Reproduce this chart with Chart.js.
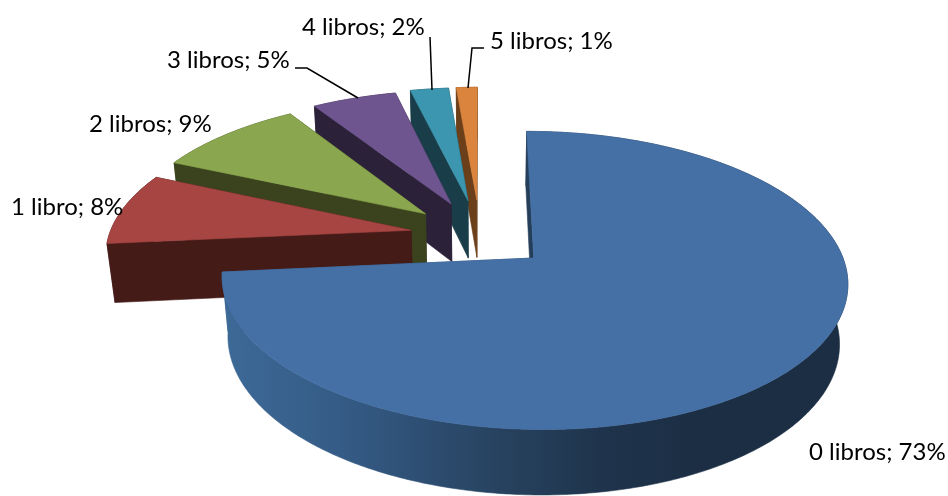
<!DOCTYPE html>
<html>
<head>
<meta charset="utf-8">
<style>
  html, body { margin: 0; padding: 0; background: #fff; }
  canvas { display: block; }
</style>
<script src="https://cdn.jsdelivr.net/npm/chart.js@4"></script>
</head>
<body>
<canvas id="pieChart" width="948" height="496"></canvas>
<script>
var categories = ['0 libros', '1 libro', '2 libros', '3 libros', '4 libros', '5 libros'];
var percentValues = [73.49, 8.2, 9.3, 5.3, 2.4, 1.31];

var topColors = ['#4470a6', '#a64542', '#8aa64e', '#6f5590', '#3d96af', '#db843d'];
var sideColors = ['#1b2e44', '#451b18', '#3a431d', '#2b2138', '#1a3e49', '#6b3f1a'];
var explodeOffsets = [188, 186, 195, 203, 210, 212];

var labelX = [809, 11, 89, 167, 302, 490];
var labelY = [460, 215, 132, 68, 35, 49];
var leaderLines = [
	null, null, null,
	[[295, 68], [307, 68], [358, 98]],
	[[430, 37], [432, 90]],
	[[484, 48], [472, 48], [468, 88]]
];

// perspective of the pie plane
var view = { x0: 480, y0: 235.5, sx: 302, sy: 139, tilt: 0.147, depth: 60, depthScale: 0.022 };

function project(u, v, bottom){
	var w = 1 - view.tilt * v + (bottom ? view.depthScale : 0);
	return {
		x: view.x0 + view.sx * u / w,
		y: view.y0 + (view.sy * v + (bottom ? view.depth : 0)) / w
	};
}

function fillPoly(ctx, pts, color){
	ctx.beginPath();
	pts.forEach(function(p, i){ if(i === 0){ ctx.moveTo(p.x, p.y); }else{ ctx.lineTo(p.x, p.y); } });
	ctx.closePath();
	ctx.fillStyle = color;
	ctx.strokeStyle = color;
	ctx.lineWidth = 0.6;
	ctx.fill();
	ctx.stroke();
}

function drawSlice(ctx, arc, idx){
	var r = arc.outerRadius;
	var mid = (arc.startAngle + arc.endAngle) / 2;
	var shift = (arc.options.offset || 0) / 4 / r;
	var cu = Math.cos(mid) * shift;
	var cv = Math.sin(mid) * shift;
	var steps = Math.max(2, Math.ceil((arc.endAngle - arc.startAngle) * 90));
	var topArc = [], botArc = [];
	for(var i = 0; i <= steps; i++){
		var t = arc.startAngle + (arc.endAngle - arc.startAngle) * i / steps;
		topArc.push(project(cu + Math.cos(t), cv + Math.sin(t), false));
		botArc.push(project(cu + Math.cos(t), cv + Math.sin(t), true));
	}
	var apexTop = project(cu, cv, false);
	var apexBot = project(cu, cv, true);

	var side = sideColors[idx];
	if(idx === 0){
		side = ctx.createLinearGradient(226, 0, 850, 0);
		side.addColorStop(0, '#3d6997');
		side.addColorStop(0.2, '#345a84');
		side.addColorStop(0.44, '#27425f');
		side.addColorStop(0.6, '#1f344c');
		side.addColorStop(0.75, '#1b2e44');
		side.addColorStop(1, '#1b2e44');
	}
	fillPoly(ctx, [apexTop, topArc[0], botArc[0], apexBot], side);
	fillPoly(ctx, [apexTop, topArc[steps], botArc[steps], apexBot], side);
	fillPoly(ctx, topArc.concat(botArc.slice().reverse()), side);
	fillPoly(ctx, [apexTop].concat(topArc), arc.options.backgroundColor);
}

var pie3dPlugin = {
	id: 'pie3d',
	beforeDatasetDraw: function(chart){
		var ctx = chart.ctx;
		var arcs = chart.getDatasetMeta(0).data;
		ctx.save();
		for(var i = arcs.length - 1; i >= 0; i--){
			drawSlice(ctx, arcs[i], i);
		}
		ctx.restore();
		return false;
	},
	afterDraw: function(chart){
		var ctx = chart.ctx;
		ctx.save();
		ctx.strokeStyle = '#000';
		ctx.lineWidth = 1.5;
		leaderLines.forEach(function(line){
			if(!line){ return; }
			ctx.beginPath();
			line.forEach(function(p, i){ if(i === 0){ ctx.moveTo(p[0], p[1]); }else{ ctx.lineTo(p[0], p[1]); } });
			ctx.stroke();
		});
		ctx.fillStyle = '#000';
		ctx.font = '24px Lato';
		ctx.textBaseline = 'alphabetic';
		categories.forEach(function(name, i){
			ctx.fillText(name + '; ' + Math.round(percentValues[i]) + '%', labelX[i], labelY[i]);
		});
		ctx.restore();
	}
};

new Chart(document.getElementById('pieChart'), {
	type: 'pie',
	data: {
		labels: categories,
		datasets: [{
			data: percentValues,
			backgroundColor: topColors,
			offset: explodeOffsets,
			borderWidth: 0
		}]
	},
	options: {
		responsive: false,
		animation: false,
		radius: 200,
		layout: { padding: 0 },
		plugins: { legend: { display: false }, tooltip: { enabled: false } }
	},
	plugins: [pie3dPlugin]
});
</script>
</body>
</html>
